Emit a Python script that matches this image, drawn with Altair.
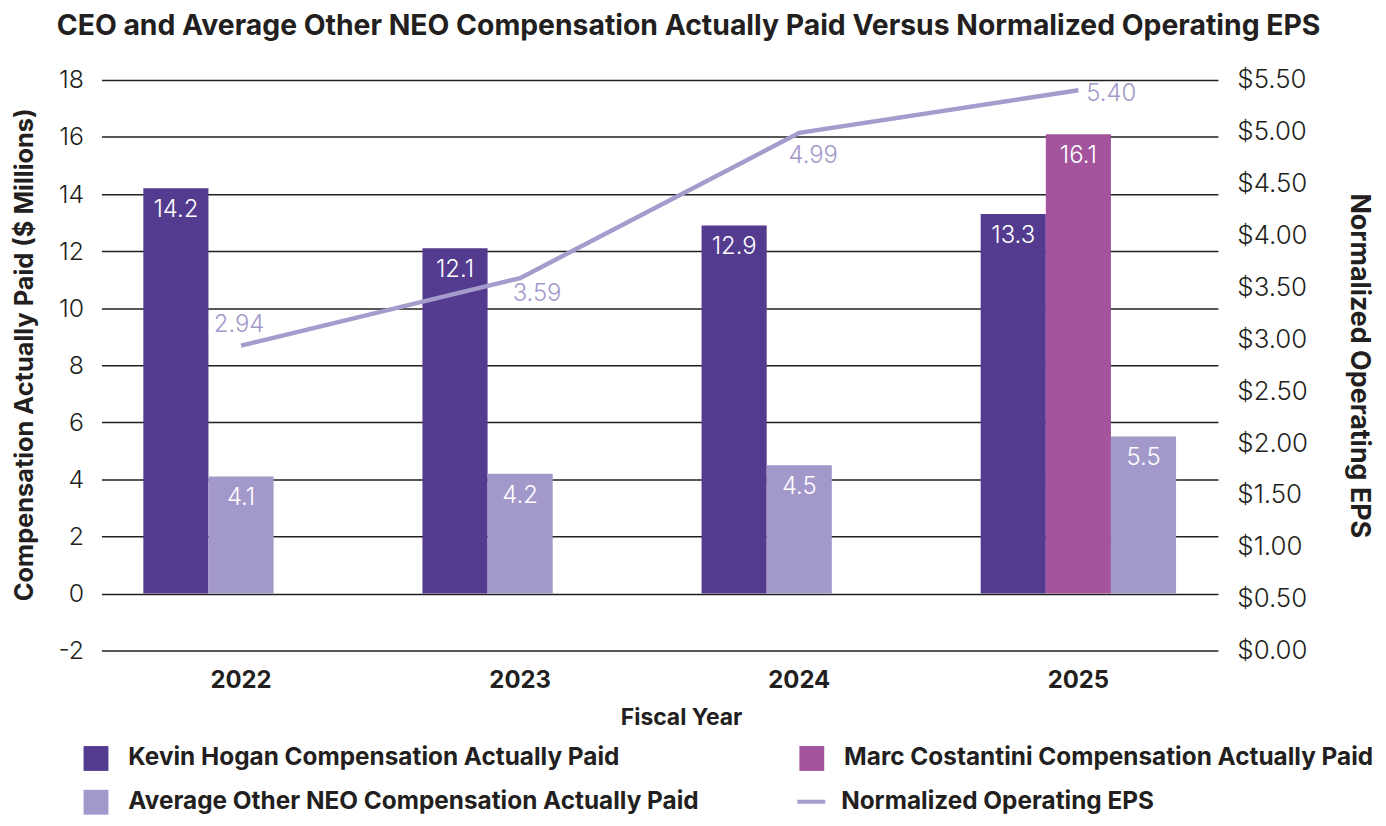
import altair as alt
import pandas as pd

years = ["2022", "2023", "2024", "2025"]
kevin = [14.2, 12.1, 12.9, 13.3]
marc = [None, None, None, 16.1]
avg_neo = [4.1, 4.2, 4.5, 5.5]
eps = [2.94, 3.59, 4.99, 5.40]

S_KEVIN = "Kevin Hogan Compensation Actually Paid"
S_MARC = "Marc Costantini Compensation Actually Paid"
S_AVG = "Average Other NEO Compensation Actually Paid"
S_EPS = "Normalized Operating EPS"
bar_order = [S_KEVIN, S_MARC, S_AVG]          # order of bars inside a year
legend_order = [S_KEVIN, S_AVG, S_MARC]       # legend fills column by column
series_vals = {S_KEVIN: kevin, S_MARC: marc, S_AVG: avg_neo}

C_KEVIN = "#533B8F"
C_MARC = "#A4549C"
C_AVG = "#A398CA"
C_LINE = "#A59BCC"
TXT = "#231F20"
FONT = "Inter"
colors = {S_KEVIN: C_KEVIN, S_MARC: C_MARC, S_AVG: C_AVG}

rows = []
for i, yr in enumerate(years):
    slot = 0
    for s in bar_order:
        v = series_vals[s][i]
        if v is None:
            continue
        rows.append({"year": yr, "series": s, "value": v, "slot": str(slot)})
        slot += 1
bars_df = pd.DataFrame(rows)
eps_df = pd.DataFrame({"year": years, "eps": eps, "metric": [S_EPS] * len(years)})

x_enc = alt.X(
    "year:N",
    sort=years,
    scale=alt.Scale(paddingInner=0.3, paddingOuter=0.15),
    axis=alt.Axis(
        title="Fiscal Year",
        labelAngle=0,
        labelFont=FONT,
        labelFontSize=24,
        labelFontWeight="bold",
        labelColor=TXT,
        labelPadding=18,
        domain=False,
        ticks=False,
        titleFont=FONT,
        titleFontSize=23,
        titleFontWeight="bold",
        titleColor=TXT,
        titlePadding=14,
        titleX=583,
    ),
)

y_left = alt.Y(
    "value:Q",
    scale=alt.Scale(domain=[-2, 18], nice=False, zero=False),
    axis=alt.Axis(
        title="Compensation Actually Paid ($ Millions)",
        values=list(range(-2, 19, 2)),
        labelExpr="'' + datum.value",
        grid=True,
        gridColor=TXT,
        gridWidth=1.5,
        domain=False,
        ticks=False,
        labelFont=FONT,
        labelFontSize=25,
        labelFontWeight=300,
        labelColor=TXT,
        labelPadding=18,
        titleFont=FONT,
        titleFontSize=25.5,
        titleFontWeight="bold",
        titleColor=TXT,
        titlePadding=21,
        titleY=276,
    ),
)

xoff = alt.XOffset("slot:N", scale=alt.Scale(domain=["0", "1", "2"], paddingInner=0, paddingOuter=0))

bars = alt.Chart(bars_df).mark_bar().encode(
    x=x_enc,
    xOffset=xoff,
    y=y_left,
    y2=alt.datum(0),
    color=alt.Color(
        "series:N",
        scale=alt.Scale(domain=legend_order, range=[colors[s] for s in legend_order]),
        legend=alt.Legend(
            title=None,
            orient="none",
            legendX=-18,
            legendY=670,
            columns=2,
            columnPadding=101,
            rowPadding=18,
            symbolType="square",
            symbolSize=625,
            symbolStrokeWidth=0,
            labelFont=FONT,
            labelFontSize=24.5,
            labelFontWeight="bold",
            labelColor=TXT,
            labelOffset=20,
            labelLimit=800,
        ),
    ),
)

bar_labels = alt.Chart(bars_df).mark_text(
    baseline="middle", dy=22, color="white", font=FONT, fontSize=24, fontWeight=300
).encode(
    x=x_enc,
    xOffset=xoff,
    y=y_left,
    text=alt.Text("value:Q", format=".1f"),
)

y_right = alt.Y(
    "eps:Q",
    scale=alt.Scale(domain=[0, 5.5], nice=False, zero=False),
    axis=alt.Axis(
        orient="right",
        title="Normalized Operating EPS",
        values=[i * 0.5 for i in range(12)],
        format="$.2f",
        grid=False,
        domain=False,
        ticks=False,
        labelFont=FONT,
        labelFontSize=26,
        labelFontWeight=300,
        labelColor=TXT,
        labelPadding=19,
        titleFont=FONT,
        titleFontSize=27,
        titleFontWeight="bold",
        titleColor=TXT,
        titleAngle=90,
        titlePadding=37,
    ),
)

line = alt.Chart(eps_df).mark_line(strokeWidth=4.5).encode(
    x=x_enc,
    y=y_right,
    stroke=alt.Stroke(
        "metric:N",
        scale=alt.Scale(domain=[S_EPS], range=[C_LINE]),
        legend=alt.Legend(
            title=None,
            orient="none",
            legendX=698,
            legendY=710,
            symbolType="stroke",
            symbolSize=784,
            symbolStrokeWidth=4,
            labelFont=FONT,
            labelFontSize=24.5,
            labelFontWeight="bold",
            labelColor=TXT,
            labelOffset=14,
            labelLimit=800,
        ),
    ),
)

# label offsets per year (style only)
eps_offsets = {"2022": (-2, -21), "2023": (17, 16), "2024": (14, 23), "2025": (33, 4)}
eps_labels = []
for yr in years:
    dx, dy = eps_offsets[yr]
    eps_labels.append(
        alt.Chart(eps_df)
        .transform_filter(alt.datum.year == yr)
        .mark_text(baseline="middle", align="center", dx=dx, dy=dy, color=C_AVG,
                   font=FONT, fontSize=24, fontWeight=300)
        .encode(x=x_enc, y=y_right, text=alt.Text("eps:Q", format=".2f"))
    )

left = alt.layer(bars, bar_labels)
right = alt.layer(line, *eps_labels)

chart = (
    alt.layer(left, right)
    .resolve_scale(y="independent")
    .properties(
        width=1123,
        height=574,
        autosize=alt.AutoSizeParams(type="none"),
        padding={"left": 94, "top": 70, "right": 161, "bottom": 166},
        title=alt.TitleParams(
            "CEO and Average Other NEO Compensation Actually Paid  Versus Normalized Operating EPS",
            font=FONT,
            fontSize=28.5,
            fontWeight="bold",
            color=TXT,
            anchor="middle",
            frame="group",
            dx=29,
            offset=27,
        ),
    )
    .configure_view(stroke=None)
)

chart.save("out.html", embed_options={"renderer": "svg", "actions": False})
